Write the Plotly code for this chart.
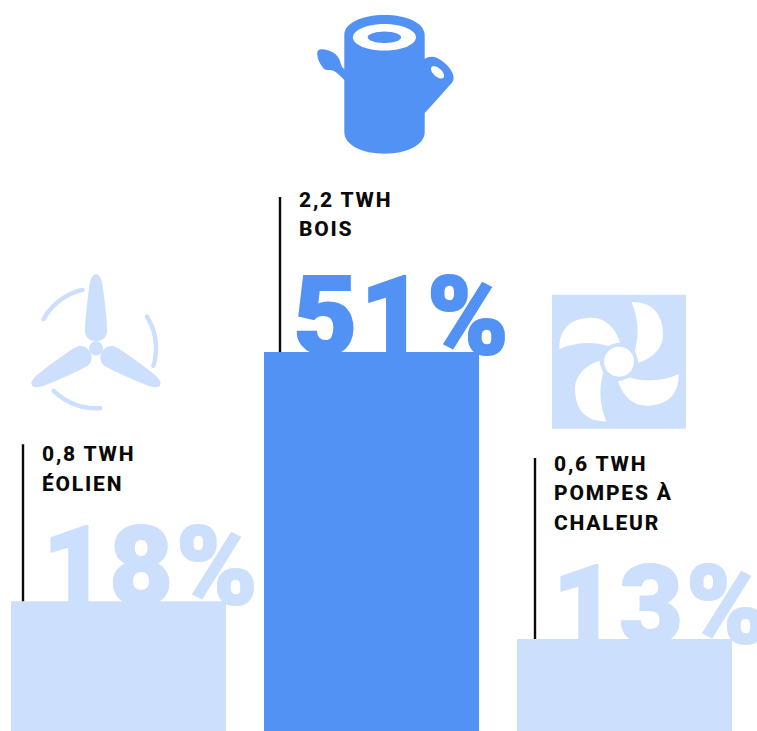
import numpy as np
import plotly.graph_objects as go

# Heat production by source
categories = ["ÉOLIEN", "BOIS", "POMPES À<br>CHALEUR"]
shares = [18, 51, 13]
twh_labels = ["0,8 TWH", "2,2 TWH", "0,6 TWH"]
share_labels = ["18%", "51%", "13%"]

BLUE = "#5292F4"
PALE = "#CCDFFC"
bar_colors = [PALE, BLUE, PALE]

W, H = 757, 731
SLOT = 253.0               # pixels between bar centres
PX_PER_UNIT = 7.553        # pixels per percentage point
x_range = [-118.5 / SLOT, (W - 118.5) / SLOT]
y_low = 0.82
y_range = [y_low, y_low + H / PX_PER_UNIT]
idx = list(range(len(categories)))

# Per-column layout offsets, in pixels from the bar centre
rule_dx = [-95.5, -91.5, -89.5]
rule_len = [157, 155, 181]
label_dx = [-79, -75, -73]
big_dx = [-76, -78, -72]
BIG_SIZE = 110
BIG_DROP = [30, 30, 31]    # text box sinks below the bar top


def px(x, y):
    return f"{x / W:.5f} {1 - y / H:.5f}"


def to_path(segments):
    """Build a paper-referenced path from pixel coordinates, one command per segment."""
    out = []
    for cmd, pts in segments:
        step = 3 if cmd == "C" else 1
        for k in range(0, len(pts), step):
            out.append(cmd + " " + " ".join(px(*p) for p in pts[k:k + step]))
    return " ".join(out) + " Z"


def ellipse(cx, cy, rx, ry, tilt=0.0):
    t = np.linspace(0, 2 * np.pi, 61)[:-1]
    c, s = np.cos(tilt), np.sin(tilt)
    xs = rx * np.cos(t)
    ys = ry * np.sin(t)
    pts = list(zip(cx + xs * c - ys * s, cy + xs * s + ys * c))
    return to_path([("M", [pts[0]]), ("L", pts[1:])])


def icon(path, color):
    return dict(type="path", xref="paper", yref="paper", path=path,
                fillcolor=color, line=dict(width=0), layer="above")


def rotated(points, deg, cx, cy):
    a = np.radians(deg)
    c, s = np.cos(a), np.sin(a)
    return [(cx + x * c - y * s, cy + x * s + y * c) for x, y in points]


def curve_path(start, curves, deg, cx, cy):
    segs = [("M", rotated([start], deg, cx, cy))]
    for tri in curves:
        segs.append(("C", rotated(tri, deg, cx, cy)))
    return to_path(segs)


def arc_stroke(cx, cy, r, a0, a1, w):
    """Stroked arc with rounded ends, as a filled outline (angles clockwise from up)."""
    t = np.radians(np.linspace(a0, a1, 40))
    outer = [(cx + (r + w / 2) * np.sin(v), cy - (r + w / 2) * np.cos(v)) for v in t]
    inner = [(cx + (r - w / 2) * np.sin(v), cy - (r - w / 2) * np.cos(v)) for v in t[::-1]]

    def cap(v, sweep):
        ex, ey = cx + r * np.sin(v), cy - r * np.cos(v)
        return [(ex + w / 2 * np.sin(v + b), ey - w / 2 * np.cos(v + b))
                for b in np.linspace(sweep[0], sweep[1], 9)[1:-1]]

    pts = outer + cap(t[-1], (0, np.pi)) + inner + cap(t[0], (np.pi, 2 * np.pi))
    return to_path([("M", [pts[0]]), ("L", pts[1:])])


shapes = []

# Vertical rules beside each label, anchored on the bar tops
for i, v in enumerate(shares):
    shapes.append(dict(type="line", xref="x", yref="y",
                       xsizemode="pixel", ysizemode="pixel",
                       xanchor=i, yanchor=v,
                       x0=rule_dx[i], x1=rule_dx[i], y0=0, y1=rule_len[i],
                       line=dict(color="#0a0a0a", width=2.4), layer="above"))

# Log icon
log_body = to_path([
    ("M", [(344.3, 35)]),
    ("C", [(344.3, 23), (362, 15), (384.5, 15), (407, 15), (424.7, 23), (424.7, 35),
           (424.7, 43), (424.7, 51), (424.7, 59),
           (428, 56.5), (433, 56), (437, 58), (446, 62), (454, 72), (453.6, 78),
           (453.5, 81), (452, 83), (449.5, 85.5), (441, 95), (433, 104), (424.7, 113),
           (424.7, 119), (424.7, 125), (424.7, 132),
           (424.7, 145), (407, 153.7), (384.5, 153.7), (362, 153.7), (344.3, 145), (344.3, 132),
           (344.3, 115), (344.3, 97), (344.3, 80),
           (341, 76.5), (337, 72.5), (333, 70.5), (329, 70), (325, 71), (322.5, 67),
           (318.5, 62), (316.5, 56), (317.5, 51.5), (318, 49), (323, 49), (327, 50),
           (333, 51.5), (338, 55), (340, 61), (341, 65), (342, 67.5), (344.3, 69),
           (344.3, 57), (344.3, 46), (344.3, 35)]),
])
shapes += [
    icon(log_body, BLUE),
    icon(ellipse(384.4, 37.3, 31.5, 13.3), "white"),
    icon(ellipse(384.4, 37.3, 16.7, 5.7), BLUE),
    icon(ellipse(437.5, 72.3, 8, 4.2, np.radians(42)), "white"),
]

# Wind turbine icon
HUB = (96.0, 348.3)
blade_start = (0, -74)
blade_curves = [
    [(4, -74), (6, -68), (7, -60)],
    [(9, -45), (11, -30), (11, -17)],
    [(11, -11), (6, -7), (0, -7)],
    [(-6, -7), (-11, -11), (-11, -17)],
    [(-11, -30), (-9, -45), (-7, -60)],
    [(-6, -68), (-4, -74), (0, -74)],
]
for deg in (0, 120, 240):
    shapes.append(icon(curve_path(blade_start, blade_curves, deg, *HUB), PALE))
shapes.append(icon(ellipse(HUB[0], HUB[1], 7, 7), PALE))
for a0, a1 in ((-61, -13), (58, 107), (176, 225)):
    shapes.append(icon(arc_stroke(HUB[0], HUB[1], 60, a0, a1, 4.4), PALE))

# Heat pump fan icon
FAN = (619.0, 361.7)
shapes.append(icon(to_path([("M", [(552, 294.7)]),
                            ("L", [(686, 294.7), (686, 428.7), (552, 428.7)])]), PALE))
fan_start = (-59.7, -12.5)
fan_curves = [
    [(-60, -38), (-42, -44), (-27.3, -44)],
    [(-12, -44), (-2.5, -31), (1, -19.3)],
    [(-3, -19), (-7, -17.5), (-10.7, -15.7)],
    [(-25, -20), (-42, -20), (-59.7, -12.5)],
]
for deg in (0, 90, 180, 270):
    shapes.append(icon(curve_path(fan_start, fan_curves, deg, *FAN), "white"))
shapes.append(icon(ellipse(FAN[0], FAN[1], 15, 15), "white"))

fig = go.Figure()

# Percentages sit on the base axes so the bars cover their lower edge
fig.add_trace(go.Scatter(
    x=[i + d / SLOT for i, d in zip(idx, big_dx)],
    y=[v - d / PX_PER_UNIT for v, d in zip(shares, BIG_DROP)],
    mode="text",
    text=share_labels,
    textposition="top right",
    textfont=dict(family="'Roboto Black', Roboto", size=BIG_SIZE, weight=900, color=bar_colors),
    hoverinfo="skip",
    showlegend=False,
    cliponaxis=False,
))

fig.add_trace(go.Bar(
    x=idx, y=shares, width=215 / SLOT,
    marker=dict(color=bar_colors, line=dict(width=0)),
    xaxis="x2", yaxis="y2",
    hoverinfo="skip",
    showlegend=False,
))

# Labels, one annotation per line so the leading stays fixed
annotations = []
LABEL_TOP = [155, 160, 183]
for i, v in enumerate(shares):
    lines = [twh_labels[i]] + categories[i].split("<br>")
    for n, line in enumerate(lines):
        annotations.append(dict(
            xref="x", yref="y", x=i, y=v, text=line, showarrow=False,
            xanchor="left", yanchor="middle",
            xshift=label_dx[i], yshift=LABEL_TOP[i] - 8 - 29.3 * n,
            font=dict(family="Roboto", size=21, weight=800, color="#0a0a0a"),
        ))

axis_off = dict(visible=False, fixedrange=True)
fig.update_layout(
    width=W, height=H,
    autosize=False,
    margin=dict(l=0, r=0, t=0, b=0),
    paper_bgcolor="white",
    plot_bgcolor="white",
    xaxis=dict(range=x_range, domain=[0, 1], **axis_off),
    yaxis=dict(range=y_range, domain=[0, 1], **axis_off),
    xaxis2=dict(range=x_range, overlaying="x", anchor="y2", **axis_off),
    yaxis2=dict(range=y_range, overlaying="y", anchor="x2", **axis_off),
    shapes=shapes,
    annotations=annotations,
    showlegend=False,
)

# Letter tracking on labels and percentages, keeping their left edge in place;
# a thin same-colour outline thickens the percentages
spacing = """
function track(sel, amount) {
    document.querySelectorAll(sel).forEach(function (t) {
        var before = t.getBBox().x;
        t.style.letterSpacing = amount;
        var shift = before - t.getBBox().x;
        t.setAttribute('x', parseFloat(t.getAttribute('x')) + shift);
    });
}
track('.annotation-text', '1.8px');
track('.textpoint text', '3px');
document.querySelectorAll('.textpoint text').forEach(function (t) {
    t.style.stroke = t.style.fill;
    t.style.strokeWidth = '2px';
});
"""
fig.write_html("out.html", post_script=spacing, config={"displayModeBar": False})
